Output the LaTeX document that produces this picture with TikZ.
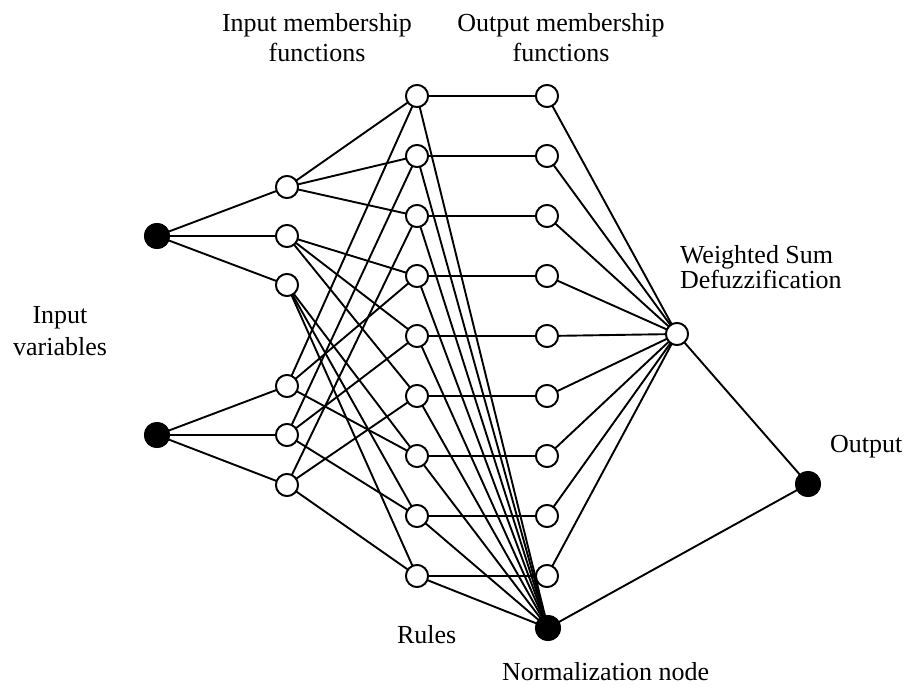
\documentclass[tikz,border=0pt]{standalone}
\usepackage{fontspec}
\setmainfont{Liberation Serif}
\begin{document}
\begin{tikzpicture}[x=1pt, y=-1pt,
  every node/.style={inner sep=0pt, outer sep=0pt},
  hollow/.style={circle, draw, line width=1.8pt, fill=white, minimum size=22pt},
  solid/.style={circle, fill=black, draw=black, line width=1pt, minimum size=25pt},
  link/.style={line width=1.9pt},
  lbl/.style={font=\fontsize{26}{30}\selectfont, anchor=base},
  lbll/.style={font=\fontsize{26}{30}\selectfont, anchor=base west}]
\useasboundingbox (0,0) rectangle (907,685);

% input variables
\node[solid] (x1) at (157,236) {};
\node[solid] (x2) at (157,435) {};

% input membership functions
\foreach \i/\y in {1/187, 2/236, 3/285, 4/386, 5/435, 6/485}
  \node[hollow] (m\i) at (287,\y) {};

% rules and output membership functions
\foreach \i in {1,...,9} {
  \pgfmathsetmacro{\yy}{96 + 60*(\i-1)}
  \node[hollow] (r\i) at (417,\yy) {};
  \node[hollow] (o\i) at (547,\yy) {};
}

% defuzzification, normalization and output
\node[hollow] (w) at (677,334) {};
\node[solid] (n) at (548,628) {};
\node[solid] (y) at (808,484) {};

% connections
\foreach \j in {1,2,3} \draw[link] (x1) -- (m\j);
\foreach \j in {4,5,6} \draw[link] (x2) -- (m\j);
\foreach \a/\b/\r in {1/4/1, 1/5/2, 1/6/3, 2/4/4, 2/5/5, 2/6/6, 3/4/7, 3/5/8, 3/6/9} {
  \draw[link] (m\a) -- (r\r);
  \draw[link] (m\b) -- (r\r);
}
\foreach \r in {1,...,9} {
  \draw[link] (r\r) -- (o\r);
  \draw[link] (r\r) -- (n);
  \draw[link] (o\r) -- (w);
}
\draw[link] (w) -- (y);
\draw[link] (n) -- (y);

% redraw nodes on top of the links
\foreach \i in {1,...,6} \node[hollow] at (m\i) {};
\foreach \i in {1,...,9} {\node[hollow] at (r\i) {}; \node[hollow] at (o\i) {};}
\node[hollow] at (w) {};
\node[solid] at (n) {};
\node[solid] at (y) {};
\node[solid] at (x1) {};
\node[solid] at (x2) {};

% labels
\node[lbl] (t1a) at (317,32) {Input membership};
\node[lbl] (t1b) at (317,62) {functions};
\node[lbl] (t2a) at (561,32) {Output membership};
\node[lbl] (t2b) at (561,62) {functions};
\node[lbll] (t3a) at (680,263) {Weighted Sum};
\node[lbll] (t3b) at (680,288) {Defuzzification};
\node[lbl] (t4a) at (60,323) {Input};
\node[lbl] (t4b) at (60,355) {variables};
\node[lbll] (t5) at (830,452) {Output};
\node[lbll] (t6) at (397,643) {Rules};
\node[lbll] (t7) at (502,680) {Normalization node};
\end{tikzpicture}
\end{document}
